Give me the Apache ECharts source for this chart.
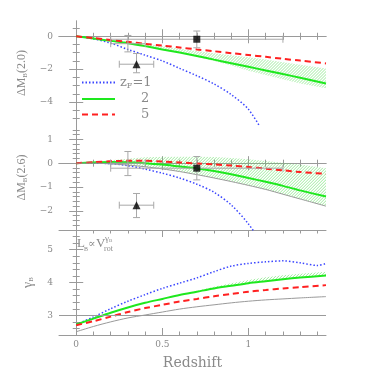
<!DOCTYPE html>
<html>
<head>
<meta charset="utf-8">
<script src="https://cdn.jsdelivr.net/npm/echarts@6/dist/echarts.min.js"></script>
<style>
  html, body { margin: 0; padding: 0; background: #fff; }
  #chart { width: 382px; height: 382px; }
</style>
</head>
<body>
<div id="chart"></div>
<script>
// redshift grid shared by most curves
const xs = [0, 0.1, 0.2, 0.3, 0.4, 0.5, 0.6, 0.7, 0.8, 0.9, 1.0, 1.1, 1.2, 1.3, 1.45];

// panel 1: dM_B(2.0)
const red1   = [0, -0.11, -0.23, -0.34, -0.46, -0.57, -0.68, -0.8, -0.91, -1.03, -1.14, -1.25, -1.37, -1.48, -1.65];
const green1 = [0, -0.14, -0.28, -0.42, -0.6, -0.8, -0.99, -1.2, -1.42, -1.64, -1.86, -2.08, -2.3, -2.52, -2.87];
const bandHi1 = [0, -0.1, -0.22, -0.33, -0.45, -0.6, -0.76, -0.9, -1.03, -1.15, -1.28, -1.42, -1.58, -1.74, -1.96];
const bandLo1 = [0, -0.14, -0.3, -0.44, -0.64, -0.83, -1.02, -1.25, -1.5, -1.78, -2.1, -2.36, -2.62, -2.88, -3.17];
const blueX1 = [0, 0.1, 0.2, 0.3, 0.4, 0.5, 0.6, 0.7, 0.8, 0.9, 1.0, 1.1];
const blue1  = [0, -0.15, -0.42, -0.8, -1.15, -1.5, -1.95, -2.4, -2.9, -3.55, -4.45, -6.1];

// panel 2: dM_B(2.6)
const red2   = [0, 0.04, 0.08, 0.1, 0.1, 0.07, 0.03, -0.01, -0.05, -0.1, -0.16, -0.23, -0.3, -0.37, -0.45];
const green2 = [0, 0.03, 0.05, 0.04, 0.0, -0.06, -0.14, -0.22, -0.33, -0.46, -0.62, -0.78, -0.95, -1.14, -1.4];
const gray2  = [0, 0, -0.03, -0.08, -0.15, -0.24, -0.35, -0.48, -0.62, -0.77, -0.93, -1.1, -1.3, -1.5, -1.8];
const bandHi2 = [0, 0.05, 0.12, 0.19, 0.25, 0.27, 0.28, 0.28, 0.26, 0.22, 0.16, 0.09, 0.02, -0.06, -0.21];
const blueX2 = [0, 0.1, 0.2, 0.3, 0.4, 0.5, 0.6, 0.7, 0.8, 0.9, 1.0, 1.1];
const blue2  = [0, 0, -0.02, -0.1, -0.25, -0.42, -0.62, -0.88, -1.22, -1.75, -2.55, -3.6];

// panel 3: gamma_B
const gray3  = [2.5, 2.66, 2.8, 2.92, 3.01, 3.1, 3.19, 3.26, 3.32, 3.38, 3.43, 3.47, 3.5, 3.53, 3.57];
const red3   = [2.7, 2.82, 2.96, 3.1, 3.22, 3.32, 3.42, 3.5, 3.58, 3.65, 3.72, 3.77, 3.82, 3.86, 3.92];
const green3 = [2.72, 2.9, 3.08, 3.24, 3.38, 3.5, 3.62, 3.72, 3.82, 3.9, 3.98, 4.04, 4.1, 4.15, 4.21];
const bandHi3 = [2.72, 2.9, 3.08, 3.24, 3.38, 3.5, 3.63, 3.75, 3.87, 3.98, 4.08, 4.16, 4.22, 4.27, 4.33];
const blueX3 = [0, 0.1, 0.2, 0.3, 0.4, 0.5, 0.6, 0.7, 0.8, 0.9, 1.0, 1.1, 1.2, 1.3, 1.4, 1.45];
const blue3  = [2.72, 2.95, 3.2, 3.43, 3.63, 3.82, 3.98, 4.14, 4.33, 4.5, 4.58, 4.63, 4.66, 4.6, 4.52, 4.58];

// observed points: [z, y, zLo, zHi, yLo, yHi]
const obsCross1 = [0.3, -0.45, 0.2, 0.4, -0.95, 0.05];
const obsTri1   = [0.35, -1.7, 0.25, 0.45, -2.22, -1.05];
const obsSq1    = [0.7, -0.18, 0.2, 1.2, -0.7, 0.32];
const obsCross2 = [0.3, 0.0, 0.2, 0.4, -0.52, 0.49];
const obsTri2   = [0.35, -1.76, 0.25, 0.45, -2.28, -1.27];
const obsSq2    = [0.7, -0.21, 0.2, 1.2, -0.7, 0.28];

// ticks
const xMajor = [0, 0.5, 1];
const xMinor = [0.1, 0.2, 0.3, 0.4, 0.6, 0.7, 0.8, 0.9, 1.1, 1.2, 1.3, 1.4];
const y1Major = [-4, -2, 0];
const y1Minor = [-5, -4.5, -3.5, -3, -2.5, -1.5, -1, -0.5, 0.5];
const y2Major = [-2, -1, 0, 1];
const y2Minor = [-2.6, -2.4, -2.2, -1.8, -1.6, -1.4, -1.2, -0.8, -0.6, -0.4, -0.2, 0.2, 0.4, 0.6, 0.8, 1.2, 1.4];
const y3Major = [3, 4, 5];
const y3Minor = [2.6, 2.8, 3.2, 3.4, 3.6, 3.8, 4.2, 4.4, 4.6, 4.8, 5.2, 5.4];

const axisGray = '#9a9a9a';
const textGray = '#8a8a8a';
const serif = 'DejaVu Serif';
const BLUE = '#3b46ff', GREEN = '#1ee81e', RED = '#ff2020';

const grids = [
  { left: 59, top: 21, width: 267, height: 104, outerBoundsMode: 'none' },
  { left: 59, top: 125, width: 267, height: 105, outerBoundsMode: 'none' },
  { left: 59, top: 230, width: 267, height: 105, outerBoundsMode: 'none' }
];

const fmtMinus = v => (v < 0 ? '\u2212' + (-v) : String(v));

function xAxesFor(g, withLabels) {
  const base = { type: 'value', gridIndex: g, min: -0.1, max: 1.45, splitLine: { show: false } };
  const list = [];
  ['bottom', 'top'].forEach(pos => {
    list.push(Object.assign({}, base, {
      position: pos,
      axisLine: { show: true, lineStyle: { color: axisGray, width: 1 } },
      axisTick: { show: true, inside: true, length: 7, customValues: xMajor, lineStyle: { color: axisGray } },
      axisLabel: (withLabels && pos === 'bottom')
        ? { show: true, customValues: xMajor, color: textGray, fontFamily: serif, fontSize: 9, margin: 5 }
        : { show: false },
      name: (withLabels && pos === 'bottom') ? 'Redshift' : '',
      nameLocation: 'middle',
      nameGap: 21,
      nameTextStyle: { color: textGray, fontFamily: serif, fontSize: 14 }
    }));
    list.push(Object.assign({}, base, {
      position: pos,
      axisLine: { show: false },
      axisTick: { show: true, inside: true, length: 3.5, customValues: xMinor, lineStyle: { color: axisGray } },
      axisLabel: { show: false }
    }));
  });
  return list;
}

function yAxesFor(g, min, max, major, minor, name) {
  const base = { type: 'value', gridIndex: g, min: min, max: max, splitLine: { show: false } };
  const list = [];
  ['left', 'right'].forEach(pos => {
    list.push(Object.assign({}, base, {
      position: pos,
      axisLine: { show: true, lineStyle: { color: axisGray, width: 1 } },
      axisTick: { show: true, inside: true, length: 7, customValues: major, lineStyle: { color: axisGray } },
      axisLabel: pos === 'left'
        ? { show: true, customValues: major, formatter: fmtMinus, color: textGray, fontFamily: serif, fontSize: 9, margin: 6 }
        : { show: false },
      name: pos === 'left' ? name : '',
      nameLocation: 'middle',
      nameRotate: 90,
      nameGap: 24,
      nameTextStyle: {
        color: textGray,
        rich: {
          a: { fontFamily: 'Liberation Serif', fontSize: 12, color: textGray, lineHeight: 14 },
          b: { fontFamily: 'Liberation Serif', fontSize: 7, color: textGray, lineHeight: 14, verticalAlign: 'bottom', padding: [6, 0, 0, 0] },
          g: { fontFamily: 'Liberation Serif', fontSize: 14, color: textGray, lineHeight: 14 }
        }
      }
    }));
    list.push(Object.assign({}, base, {
      position: pos,
      axisLine: { show: false },
      axisTick: { show: true, inside: true, length: 3.5, customValues: minor, lineStyle: { color: axisGray } },
      axisLabel: { show: false }
    }));
  });
  return list;
}

const zip = (x, y) => x.map((v, i) => [v, y[i]]);

function curve(g, name, x, y, color, type, width) {
  return {
    type: 'line', name: name, xAxisIndex: g * 4, yAxisIndex: g * 4,
    data: zip(x, y), showSymbol: false, symbol: 'none', smooth: 0.3, clip: true,
    lineStyle: { color: color, type: type, width: width }, itemStyle: { color: color },
    z: 3, silent: true, animation: false
  };
}

// hatched band between lo and hi, clipped to the band outline
function band(g, lo, hi) {
  return {
    type: 'custom', xAxisIndex: g * 4, yAxisIndex: g * 4, clip: true, silent: true, z: 1,
    data: [[xs[0], lo[0], hi[0]]],
    renderItem: function (params, api) {
      const pts = [];
      xs.forEach((x, i) => pts.push(api.coord([x, hi[i]])));
      for (let i = xs.length - 1; i >= 0; i--) pts.push(api.coord([xs[i], lo[i]]));
      let x0 = Infinity, x1 = -Infinity, y0 = Infinity, y1 = -Infinity;
      pts.forEach(p => { x0 = Math.min(x0, p[0]); x1 = Math.max(x1, p[0]); y0 = Math.min(y0, p[1]); y1 = Math.max(y1, p[1]); });
      const h = y1 - y0;
      const lines = [];
      for (let s = x0 - h; s <= x1; s += 3) {
        lines.push({ type: 'line', shape: { x1: s, y1: y1, x2: s + h, y2: y0 },
          style: { stroke: 'rgba(90,222,90,0.75)', lineWidth: 0.8 } });
      }
      return { type: 'group', clipPath: { type: 'polygon', shape: { points: pts } }, children: lines };
    }
  };
}

function errBars(g, obs) {
  return {
    type: 'custom', xAxisIndex: g * 4, yAxisIndex: g * 4, silent: true, z: 4,
    data: obs,
    renderItem: function (params, api) {
      const c = api.coord([api.value(0), api.value(1)]);
      const xl = api.coord([api.value(2), api.value(1)]);
      const xh = api.coord([api.value(3), api.value(1)]);
      const yl = api.coord([api.value(0), api.value(4)]);
      const yh = api.coord([api.value(0), api.value(5)]);
      const cap = 3.5;
      const st = { stroke: '#a8a8a8', lineWidth: 1 };
      const seg = (xa, ya, xb, yb) => ({ type: 'line', shape: { x1: xa, y1: ya, x2: xb, y2: yb }, style: st });
      return {
        type: 'group', children: [
          seg(xl[0], c[1], xh[0], c[1]),
          seg(xl[0], c[1] - cap, xl[0], c[1] + cap),
          seg(xh[0], c[1] - cap, xh[0], c[1] + cap),
          seg(c[0], yl[1], c[0], yh[1]),
          seg(c[0] - cap, yl[1], c[0] + cap, yl[1]),
          seg(c[0] - cap, yh[1], c[0] + cap, yh[1])
        ]
      };
    }
  };
}

function marker(g, obs, symbol, size) {
  return {
    type: 'scatter', xAxisIndex: g * 4, yAxisIndex: g * 4, silent: true, z: 5,
    data: [[obs[0], obs[1]]], symbol: symbol, symbolSize: size,
    itemStyle: { color: '#000' }
  };
}

const chart = echarts.init(document.getElementById('chart'), null, { renderer: 'canvas' });

chart.setOption({
  animation: false,
  backgroundColor: '#fff',
  grid: grids,
  xAxis: [].concat(xAxesFor(0, false), xAxesFor(1, false), xAxesFor(2, true)),
  yAxis: [].concat(
    yAxesFor(0, -5.4, 0.93, y1Major, y1Minor, '{a|\u0394M}{b|B}{a|(2.0)}'),
    yAxesFor(1, -2.8, 1.6, y2Major, y2Minor, '{a|\u0394M}{b|B}{a|(2.6)}'),
    yAxesFor(2, 2.4, 5.6, y3Major, y3Minor, '{g|\u03b3}{b|B}')
  ),
  legend: {
    data: ['zF1', 'zF2', 'zF5'],
    orient: 'vertical',
    left: 76, top: 71,
    itemWidth: 33, itemHeight: 14, itemGap: 2.5,
    selectedMode: false,
    itemStyle: { opacity: 0 },
    formatter: function (n) {
      if (n === 'zF1') return '{t|z}{s|F}{t|=1}';
      return '{p|}{t|' + n.slice(2) + '}';
    },
    textStyle: {
      color: textGray,
      rich: {
        t: { fontFamily: serif, fontSize: 13, color: textGray },
        s: { fontFamily: serif, fontSize: 8, color: textGray, verticalAlign: 'bottom', padding: [7, 0, 0, 0] },
        p: { width: 21 }
      }
    }
  },
  graphic: [
    { type: 'text', left: 77, top: 237, style: { text: 'L', font: '13px "Liberation Serif"', fill: textGray } },
    { type: 'text', left: 84, top: 246, style: { text: 'B', font: '6px "Liberation Serif"', fill: textGray } },
    { type: 'text', left: 88, top: 239, style: { text: '\u221d', font: '11px "DejaVu Serif"', fill: textGray } },
    { type: 'text', left: 96, top: 237, style: { text: 'V', font: '13px "Liberation Serif"', fill: textGray } },
    { type: 'text', left: 105, top: 234, style: { text: '\u03b3', font: '9px "Liberation Serif"', fill: textGray } },
    { type: 'text', left: 109, top: 238, style: { text: 'B', font: '5px "Liberation Serif"', fill: textGray } },
    { type: 'text', left: 104, top: 245, style: { text: 'rot', font: '8px "Liberation Serif"', fill: textGray } }
  ],
  series: [
    band(0, bandLo1, bandHi1),
    band(1, gray2, bandHi2),
    band(2, green3, bandHi3),

    curve(0, 'zF1', blueX1, blue1, BLUE, [1.5, 2], 1.5),
    curve(0, 'zF2', xs, green1, GREEN, 'solid', 2),
    curve(0, 'zF5', xs, red1, RED, [6, 4], 2),

    curve(1, 'b2', blueX2, blue2, BLUE, [1.5, 2], 1.5),
    curve(1, 'g2', xs, green2, GREEN, 'solid', 2),
    curve(1, 'r2', xs, red2, RED, [6, 4], 2),
    curve(1, 'k2', xs, gray2, '#9a9a9a', 'solid', 1),

    Object.assign(curve(2, 'k3', xs, gray3, '#9a9a9a', 'solid', 1), {
      markLine: {
        silent: true, symbol: 'none', label: { show: false },
        lineStyle: { color: '#9a9a9a', type: 'solid', width: 1 },
        data: [{ yAxis: 3 }]
      }
    }),
    curve(2, 'b3', blueX3, blue3, BLUE, [1.5, 2], 1.5),
    curve(2, 'g3', xs, green3, GREEN, 'solid', 2),
    curve(2, 'r3', xs, red3, RED, [6, 4], 2),

    errBars(0, [obsCross1, obsTri1, obsSq1]),
    errBars(1, [obsCross2, obsTri2, obsSq2]),
    marker(0, obsTri1, 'triangle', 8),
    marker(0, obsSq1, 'rect', 7),
    marker(1, obsTri2, 'triangle', 8),
    marker(1, obsSq2, 'rect', 7)
  ]
});
</script>
</body>
</html>
